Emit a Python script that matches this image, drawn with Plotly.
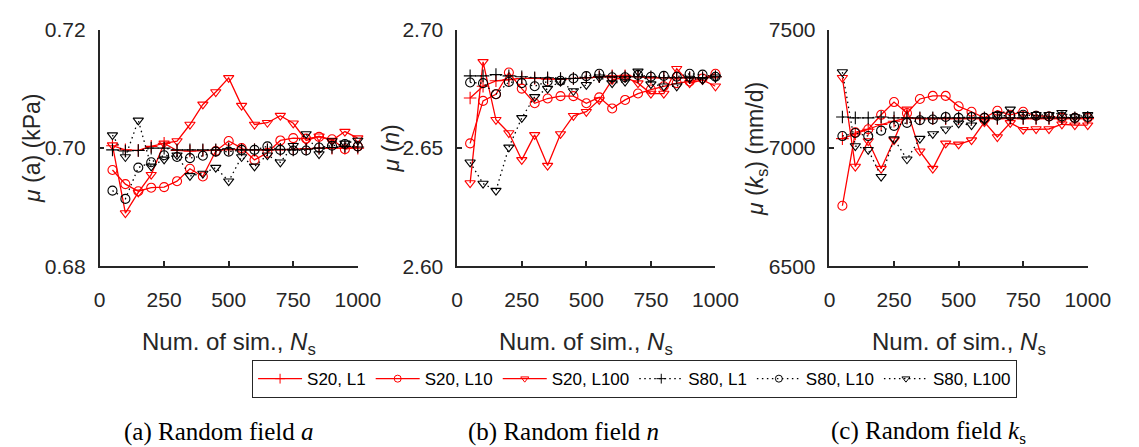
import plotly.graph_objects as go

W, H = 1139, 447

# ---------------- data ----------------
Ns = [50, 100, 150, 200, 250, 300, 350, 400, 450, 500,
      550, 600, 650, 700, 750, 800, 850, 900, 950, 1000]

series_names = ["S20, L1", "S20, L10", "S20, L100", "S80, L1", "S80, L10", "S80, L100"]

a_S20_L1 = [0.7004, 0.6997, 0.6996, 0.7003, 0.7008, 0.6996, 0.6995, 0.6996, 0.6996, 0.6998,
            0.6998, 0.6997, 0.6997, 0.6997, 0.6998, 0.6999, 0.7000, 0.7000, 0.7000, 0.7000]
a_S20_L10 = [0.6963, 0.6939, 0.6927, 0.6933, 0.6934, 0.6944, 0.6965, 0.6952, 0.6995, 0.7012,
             0.7000, 0.6980, 0.6992, 0.7013, 0.7017, 0.7016, 0.7019, 0.7015, 0.6998, 0.7003]
a_S20_L100 = [0.7005, 0.6890, 0.6925, 0.6955, 0.7008, 0.7012, 0.7040, 0.7074, 0.7095, 0.7119,
              0.7072, 0.7040, 0.7043, 0.7055, 0.7042, 0.7013, 0.7020, 0.7013, 0.7028, 0.7017]
a_S80_L1 = [0.6997, 0.6995, 0.6996, 0.7000, 0.7000, 0.6997, 0.6997, 0.6997, 0.6997, 0.6999,
            0.6997, 0.6997, 0.6997, 0.6998, 0.6997, 0.6998, 0.7000, 0.7001, 0.7003, 0.7002]
a_S80_L10 = [0.6928, 0.6914, 0.6967, 0.6976, 0.6988, 0.6985, 0.6983, 0.6987, 0.6994, 0.6994,
             0.6997, 0.6997, 0.7003, 0.6997, 0.6996, 0.6996, 0.7001, 0.7004, 0.7007, 0.7003]
a_S80_L100 = [0.7022, 0.6985, 0.7047, 0.6969, 0.6981, 0.6988, 0.6953, 0.6957, 0.6967, 0.6944,
              0.6985, 0.6969, 0.6988, 0.6976, 0.7004, 0.7024, 0.6990, 0.7012, 0.7008, 0.7013]

n_S20_L1 = [2.6712, 2.6762, 2.6785, 2.6790, 2.6795, 2.6795, 2.6792, 2.6792, 2.6795, 2.6798,
            2.6802, 2.6806, 2.6806, 2.6802, 2.6798, 2.6798, 2.6798, 2.6798, 2.6798, 2.6802]
n_S20_L10 = [2.6520, 2.6700, 2.6728, 2.6820, 2.6752, 2.6690, 2.6710, 2.6720, 2.6720, 2.6690,
             2.6715, 2.6668, 2.6704, 2.6731, 2.6748, 2.6762, 2.6775, 2.6782, 2.6795, 2.6815]
n_S20_L100 = [2.6352, 2.6865, 2.6620, 2.6564, 2.6450, 2.6556, 2.6426, 2.6560, 2.6637, 2.6654,
              2.6704, 2.6789, 2.6800, 2.6775, 2.6731, 2.6731, 2.6836, 2.6775, 2.6789, 2.6762]
n_S80_L1 = [2.6806, 2.6806, 2.6811, 2.6806, 2.6802, 2.6798, 2.6798, 2.6795, 2.6795, 2.6798,
            2.6802, 2.6802, 2.6802, 2.6802, 2.6802, 2.6798, 2.6798, 2.6798, 2.6798, 2.6802]
n_S80_L10 = [2.6778, 2.6775, 2.6728, 2.6780, 2.6775, 2.6762, 2.6782, 2.6785, 2.6795, 2.6805,
             2.6815, 2.6800, 2.6800, 2.6810, 2.6802, 2.6806, 2.6802, 2.6815, 2.6811, 2.6802]
n_S80_L100 = [2.6440, 2.6350, 2.6320, 2.6503, 2.6628, 2.6717, 2.6752, 2.6782, 2.6742, 2.6768,
              2.6800, 2.6775, 2.6782, 2.6825, 2.6771, 2.6762, 2.6762, 2.6795, 2.6789, 2.6800]

k_S20_L1 = [7040, 7060, 7080, 7100, 7114, 7128, 7125, 7125, 7125, 7125,
            7125, 7125, 7125, 7128, 7125, 7125, 7125, 7125, 7125, 7125]
k_S20_L10 = [6756, 7067, 7080, 7141, 7195, 7148, 7208, 7221, 7221, 7177,
             7154, 7128, 7158, 7141, 7154, 7137, 7134, 7128, 7128, 7128]
k_S20_L100 = [7298, 6922, 7030, 6913, 7034, 7164, 6987, 6913, 7020, 7016,
              7034, 7110, 7047, 7107, 7078, 7081, 7081, 7101, 7097, 7097]
k_S80_L1 = [7132, 7128, 7128, 7132, 7128, 7128, 7128, 7128, 7128, 7128,
            7128, 7128, 7128, 7128, 7128, 7128, 7128, 7128, 7128, 7130]
k_S80_L10 = [7051, 7064, 7051, 7074, 7094, 7107, 7118, 7121, 7132, 7128,
             7132, 7128, 7137, 7137, 7141, 7137, 7134, 7134, 7128, 7132]
k_S80_L100 = [7322, 7009, 6993, 6879, 7038, 6953, 7040, 7060, 7080, 7105,
              7097, 7118, 7141, 7164, 7141, 7141, 7141, 7150, 7132, 7141]

x_ticks = [0, 250, 500, 750, 1000]
a_ticks = [0.68, 0.70, 0.72]
n_ticks = [2.60, 2.65, 2.70]
k_ticks = [6500, 7000, 7500]

panels = [
    dict(data=[a_S20_L1, a_S20_L10, a_S20_L100, a_S80_L1, a_S80_L10, a_S80_L100],
         ticks=a_ticks, fmt=".2f",
         ytitle="<i>μ</i> (a) (kPa)",
         caption="(a) Random field <i>a</i>"),
    dict(data=[n_S20_L1, n_S20_L10, n_S20_L100, n_S80_L1, n_S80_L10, n_S80_L100],
         ticks=n_ticks, fmt=".2f",
         ytitle="<i>μ</i> (<i>n</i>)",
         caption="(b) Random field <i>n</i>"),
    dict(data=[k_S20_L1, k_S20_L10, k_S20_L100, k_S80_L1, k_S80_L10, k_S80_L100],
         ticks=k_ticks, fmt="d",
         ytitle="<i>μ</i> (<i>k</i><sub>s</sub>) (mm/d)",
         caption="(c) Random field <i>k</i><sub>s</sub>"),
]

# ---------------- styling ----------------
RED, BLACK, AX = "#ff0000", "#000000", "#262626"
DOTS = "1.5px,3.5px"
styles = [
    dict(color=RED, dash="solid", symbol="cross-thin-open"),
    dict(color=RED, dash="solid", symbol="circle-open"),
    dict(color=RED, dash="solid", symbol="triangle-down-open"),
    dict(color=BLACK, dash=DOTS, symbol="cross-thin-open"),
    dict(color=BLACK, dash=DOTS, symbol="circle-open"),
    dict(color=BLACK, dash=DOTS, symbol="triangle-down-open"),
]

# pixel layout
x_px = [(96, 361), (463, 728), (845, 1110)]
y_top, y_bot = 19, 268
ytitle_x = [26, 395, 770]
caption_x = [219, 572, 947]

fig = go.Figure()
sans = "Liberation Sans, Arial, sans-serif"
serif = "Liberation Serif, Times New Roman, serif"

for i, p in enumerate(panels):
    xa = "x" if i == 0 else f"x{i+1}"
    ya = "y" if i == 0 else f"y{i+1}"
    for j, (name, vals) in enumerate(zip(series_names, p["data"])):
        st = styles[j]
        fig.add_trace(go.Scatter(
            x=Ns, y=vals, name=name, xaxis=xa, yaxis=ya,
            mode="lines+markers", cliponaxis=False, showlegend=False,
            line=dict(color=st["color"], width=1.3, dash=st["dash"]),
            marker=dict(symbol=st["symbol"], size=9, color=st["color"],
                        line=dict(color=st["color"], width=1.1)),
        ))
    axis_common = dict(showline=True, linecolor=AX, linewidth=1.5, ticks="inside",
                       ticklen=5, tickwidth=1.5, tickcolor=AX, showgrid=False,
                       zeroline=False, mirror=False,
                       tickfont=dict(family=sans, size=21, color=AX))
    x0, x1 = x_px[i]
    fig.layout[("xaxis" if i == 0 else f"xaxis{i+1}")] = dict(
        axis_common, domain=[x0 / W, x1 / W], range=[0, 1000],
        tickvals=x_ticks, anchor=ya, ticklabelstandoff=14)
    fig.layout[("yaxis" if i == 0 else f"yaxis{i+1}")] = dict(
        axis_common, domain=[1 - y_bot / H, 1 - y_top / H],
        range=[p["ticks"][0], p["ticks"][-1]], tickvals=p["ticks"],
        tickformat=p["fmt"], anchor=xa, ticklabelstandoff=8)
    # x title
    fig.add_annotation(x=(x0 + x1) / 2 / W, y=1 - 349 / H, xref="paper", yref="paper",
                       text="Num. of sim., <i>N</i><sub>s</sub>", showarrow=False,
                       xanchor="center", yanchor="middle",
                       font=dict(family=sans, size=24, color=AX))
    # y title
    fig.add_annotation(x=ytitle_x[i] / W, y=1 - 144 / H, xref="paper", yref="paper",
                       text=p["ytitle"], showarrow=False, textangle=-90,
                       xanchor="center", yanchor="middle",
                       font=dict(family=sans, size=23, color=AX))
    # caption
    fig.add_annotation(x=caption_x[i] / W, y=1 - 443 / H, xref="paper", yref="paper",
                       text=p["caption"], showarrow=False,
                       xanchor="center", yanchor="middle",
                       font=dict(family=serif, size=25, color="#000000"))

# legend-only entries (smaller markers, as in the reference legend)
for j, name in enumerate(series_names):
    st = styles[j]
    fig.add_trace(go.Scatter(
        x=[None], y=[None], name=name, mode="lines+markers", showlegend=True,
        line=dict(color=st["color"], width=1.3, dash=st["dash"]),
        marker=dict(symbol=st["symbol"], size=7, color=st["color"],
                    line=dict(color=st["color"], width=1)),
    ))

fig.update_layout(
    width=W, height=H, margin=dict(l=0, r=0, t=0, b=0),
    paper_bgcolor="white", plot_bgcolor="white",
    legend=dict(orientation="h", x=645 / W, y=1 - 367 / H, xanchor="center",
                yanchor="top", bgcolor="white", bordercolor=AX, borderwidth=1,
                font=dict(family=sans, size=17, color="#000000"),
                itemwidth=44, tracegroupgap=0),
)

fig.write_html("out.html")
